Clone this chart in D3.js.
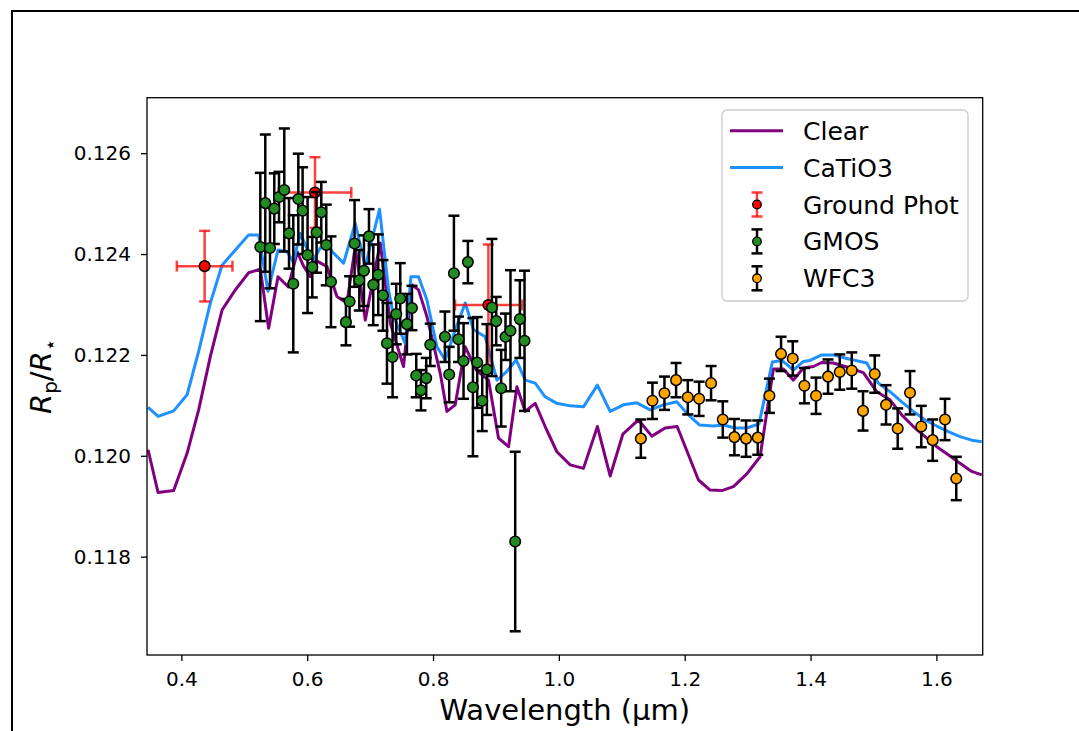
<!DOCTYPE html>
<html>
<head>
<meta charset="utf-8">
<script src="https://cdn.jsdelivr.net/npm/d3@7"></script>
<style>
  body { margin: 0; background: #fff; }
  svg { display: block; font-family: 'DejaVu Sans', sans-serif; }
</style>
</head>
<body>
<div id="chart"></div>
<script>
// Model spectra
const clearWave = [0.3471, 0.3630, 0.3878, 0.4091, 0.4275, 0.4461, 0.4647, 0.4858, 0.5069, 0.5255,
    0.5387, 0.5536, 0.5700, 0.5843, 0.5938, 0.6049, 0.6129, 0.6315, 0.6473, 0.6632,
    0.6764, 0.6923, 0.7161, 0.7320, 0.7531, 0.7665, 0.7770, 0.7903, 0.8114, 0.8221,
    0.8353, 0.8512, 0.8686, 0.8882, 0.9041, 0.9200, 0.9333, 0.9465, 0.9624, 0.9782,
    0.9968, 1.0180, 1.0391, 1.0613, 1.0815, 1.1017, 1.1265, 1.1478, 1.1689, 1.1880,
    1.2059, 1.2218, 1.2404, 1.2590, 1.2774, 1.2987, 1.3198, 1.3409, 1.3568, 1.3727,
    1.3886, 1.4045, 1.4178, 1.4362, 1.4575, 1.4839, 1.5052, 1.5263, 1.5449, 1.5634,
    1.5819, 1.6005, 1.6189, 1.6375, 1.6561, 1.6720]
const clearDepth = [0.12012, 0.11927, 0.11931, 0.12005, 0.12091, 0.12197, 0.12289, 0.12329, 0.12363, 0.12370,
    0.12253, 0.12355, 0.12335, 0.12404, 0.12377, 0.12355, 0.12388, 0.12375, 0.12316, 0.12303,
    0.12415, 0.12269, 0.12422, 0.12263, 0.12177, 0.12339, 0.12329, 0.12276, 0.12164, 0.12088,
    0.12101, 0.12216, 0.12170, 0.12150, 0.12035, 0.12018, 0.12137, 0.12088, 0.12104, 0.12058,
    0.12008, 0.11982, 0.11975, 0.12058, 0.11960, 0.12043, 0.12071, 0.12039, 0.12055, 0.12058,
    0.12002, 0.11952, 0.11932, 0.11931, 0.11939, 0.11964, 0.11998, 0.12172, 0.12172, 0.12150,
    0.12174, 0.12177, 0.12185, 0.12184, 0.12176, 0.12165, 0.12127, 0.12111, 0.12081, 0.12058,
    0.12038, 0.12018, 0.12002, 0.11985, 0.11969, 0.11962]

const catioWave = [0.3471, 0.3630, 0.3878, 0.4091, 0.4275, 0.4461, 0.4647, 0.4858, 0.5069, 0.5228,
    0.5377, 0.5536, 0.5679, 0.5779, 0.5890, 0.5986, 0.6097, 0.6208, 0.6315, 0.6394,
    0.6578, 0.6764, 0.6923, 0.7150, 0.7293, 0.7373, 0.7558, 0.7649, 0.7770, 0.7903,
    0.8062, 0.8194, 0.8353, 0.8512, 0.8643, 0.8829, 0.9015, 0.9163, 0.9322, 0.9465,
    0.9624, 0.9782, 0.9968, 1.0180, 1.0391, 1.0613, 1.0815, 1.1026, 1.1239, 1.1450,
    1.1661, 1.1874, 1.2059, 1.2237, 1.2456, 1.2615, 1.2801, 1.2987, 1.3180, 1.3393,
    1.3546, 1.3727, 1.3886, 1.3992, 1.4178, 1.4362, 1.4575, 1.4893, 1.5077, 1.5263,
    1.5449, 1.5634, 1.5819, 1.6005, 1.6189, 1.6375, 1.6561, 1.6720]
const catioDepth = [0.12096, 0.12078, 0.12089, 0.12121, 0.12207, 0.12303, 0.12378, 0.12408, 0.12438, 0.12438,
    0.12326, 0.12408, 0.12405, 0.12384, 0.12441, 0.12414, 0.12388, 0.12412, 0.12422, 0.12405,
    0.12382, 0.12461, 0.12375, 0.12489, 0.12329, 0.12276, 0.12223, 0.12355, 0.12355, 0.12309,
    0.12216, 0.12190, 0.12250, 0.12303, 0.12250, 0.12236, 0.12150, 0.12166, 0.12190, 0.12150,
    0.12144, 0.12117, 0.12104, 0.12099, 0.12097, 0.12140, 0.12088, 0.12101, 0.12105, 0.12091,
    0.12101, 0.12107, 0.12081, 0.12061, 0.12059, 0.12061, 0.12055, 0.12055, 0.12063, 0.12186,
    0.12189, 0.12170, 0.12187, 0.12189, 0.12200, 0.12200, 0.12193, 0.12184, 0.12144, 0.12127,
    0.12107, 0.12088, 0.12071, 0.12059, 0.12048, 0.12038, 0.12031, 0.12028]

// Observations
const groundWave = [0.437, 0.6124, 0.888]
const groundWaveErr = [0.0442, 0.0577, 0.053]
const groundDepth = [0.12376, 0.12522, 0.12299]
const groundErr = [0.0007, 0.0007, 0.0012]

const gmosWave = [0.5255, 0.5334, 0.5409, 0.5477, 0.5552, 0.5636, 0.5711, 0.5779, 0.5859, 0.5927,
    0.6006, 0.6081, 0.6149, 0.6224, 0.6303, 0.6378, 0.6616, 0.6674, 0.6753, 0.6828,
    0.6902, 0.6982, 0.7050, 0.7129, 0.7204, 0.7268, 0.7357, 0.7415, 0.7479, 0.7585,
    0.7665, 0.7733, 0.7808, 0.7892, 0.7956, 0.8189, 0.8257, 0.8332, 0.8405, 0.8485,
    0.8554, 0.8634, 0.8702, 0.8782, 0.8856, 0.8936, 0.9004, 0.9083, 0.9152, 0.9231,
    0.9306, 0.9380, 0.9454]
const gmosDepth = [0.12414, 0.12501, 0.12412, 0.12490, 0.12513, 0.12527, 0.12441, 0.12341, 0.12509, 0.12486,
    0.12398, 0.12374, 0.12443, 0.12483, 0.12418, 0.12345, 0.12265, 0.12306, 0.12421, 0.12348,
    0.12367, 0.12435, 0.12339, 0.12359, 0.12318, 0.12223, 0.12196, 0.12281, 0.12312, 0.12261,
    0.12293, 0.12159, 0.12130, 0.12154, 0.12220, 0.12236, 0.12161, 0.12362, 0.12231, 0.12188,
    0.12384, 0.12136, 0.12185, 0.12109, 0.12171, 0.12294, 0.12267, 0.12134, 0.12236, 0.12248,
    0.11830, 0.12271, 0.12228]
const gmosErr = [0.00147, 0.00136, 0.0008, 0.0007, 0.0005, 0.00122, 0.0007, 0.00136, 0.0009, 0.00086,
    0.00115, 0.0006, 0.0008, 0.0006, 0.0008, 0.0009, 0.00046, 0.0005, 0.00086, 0.0006,
    0.0007, 0.00054, 0.0008, 0.0008, 0.0007, 0.0008, 0.0008, 0.0006, 0.0007, 0.0006,
    0.00044, 0.00043, 0.0004, 0.0004, 0.00042, 0.0005, 0.00055, 0.00114, 0.00045, 0.00075,
    0.00042, 0.00137, 0.0009, 0.0006, 0.0009, 0.00136, 0.00048, 0.00076, 0.00046, 0.0012,
    0.00178, 0.00077, 0.00139]

const wfc3Wave = [1.1303, 1.1487, 1.1678, 1.1863, 1.2049, 1.2229, 1.2419, 1.2605, 1.2790, 1.2975,
    1.3161, 1.3346, 1.3531, 1.3717, 1.3902, 1.4087, 1.4278, 1.4464, 1.4655, 1.4834,
    1.5020, 1.5200, 1.5385, 1.5581, 1.5760, 1.5941, 1.6137, 1.6316]
const wfc3Depth = [0.12034, 0.12109, 0.12124, 0.12150, 0.12116, 0.12113, 0.12144, 0.12072, 0.12037, 0.12034,
    0.12036, 0.12119, 0.12202, 0.12193, 0.12139, 0.12119, 0.12157, 0.12166, 0.12169, 0.12089,
    0.12162, 0.12101, 0.12054, 0.12125, 0.12058, 0.12031, 0.12072, 0.11955]
const wfc3Err = [0.00038, 0.00036, 0.00033, 0.00034, 0.00034, 0.00034, 0.00034, 0.00036, 0.00036, 0.00036,
    0.00034, 0.00034, 0.00034, 0.00034, 0.00035, 0.00036, 0.00034, 0.00035, 0.00036, 0.00039,
    0.00037, 0.00039, 0.0004, 0.00043, 0.00041, 0.00041, 0.00041, 0.00043]

const xTicks = [0.4, 0.6, 0.8, 1.0, 1.2, 1.4, 1.6]
const yTicks = [0.118, 0.120, 0.122, 0.124, 0.126]
const xDomain = [0.3454, 1.6736]
const yDomain = [0.11605, 0.1271]
const legendLabels = ['Clear', 'CaTiO3', 'Ground Phot', 'GMOS', 'WFC3']

class SpectrumPlot {
    constructor(_config) {
        this.config = {
            parentElement: _config.parentElement,
            containerWidth: _config.containerWidth,
            containerHeight: _config.containerHeight,
            margin: {top: 97.7, right: 96.3, bottom: 76, left: 147},
            markerRadius: 5.3,
            capHalf: 5.5,
            barWidth: 2.5
        }
        this.initVis()
    }

    initVis() {
        let vis = this

        vis.width = vis.config.containerWidth - vis.config.margin.left - vis.config.margin.right
        vis.height = vis.config.containerHeight - vis.config.margin.top - vis.config.margin.bottom

        vis.svg = d3.select(vis.config.parentElement)
            .append('svg')
            .attr('width', vis.config.containerWidth)
            .attr('height', vis.config.containerHeight)

        // figure border (cropped at right and bottom)
        vis.svg.append('rect')
            .attr('x', 12)
            .attr('y', 11)
            .attr('width', 1200)
            .attr('height', 900)
            .attr('fill', 'none')
            .attr('stroke', 'black')
            .attr('stroke-width', 2)

        vis.chart = vis.svg.append('g')
            .attr('transform', `translate(${vis.config.margin.left}, ${vis.config.margin.top})`)

        vis.xScale = d3.scaleLinear().domain(xDomain).range([0, vis.width])
        vis.yScale = d3.scaleLinear().domain(yDomain).range([vis.height, 0])

        vis.updateVis()
    }

    updateVis() {
        let vis = this

        vis.clear = clearWave.map((w, i) => ({w: w, v: clearDepth[i]}))
        vis.catio = catioWave.map((w, i) => ({w: w, v: catioDepth[i]}))
        vis.ground = groundWave.map((w, i) => ({w: w, we: groundWaveErr[i], v: groundDepth[i], e: groundErr[i]}))
        vis.gmos = gmosWave.map((w, i) => ({w: w, v: gmosDepth[i], e: gmosErr[i]}))
        vis.wfc3 = wfc3Wave.map((w, i) => ({w: w, v: wfc3Depth[i], e: wfc3Err[i]}))

        vis.renderVis()
        vis.renderAxes()
        vis.renderLegend()
    }

    renderVis() {
        let vis = this
        const x = vis.xScale, y = vis.yScale

        const line = d3.line().x(d => x(d.w)).y(d => y(d.v))

        vis.chart.append('path')
            .datum(vis.clear)
            .attr('d', line)
            .attr('fill', 'none')
            .attr('stroke', 'purple')
            .attr('stroke-width', 3)
            .attr('stroke-linejoin', 'round')

        vis.chart.append('path')
            .datum(vis.catio)
            .attr('d', line)
            .attr('fill', 'none')
            .attr('stroke', '#1e90ff')
            .attr('stroke-width', 3)
            .attr('stroke-linejoin', 'round')

        vis.drawErrors(vis.ground, 'rgba(255,0,0,0.75)', 'red', true)
        vis.drawErrors(vis.gmos, 'black', 'forestgreen', false)
        vis.drawErrors(vis.wfc3, 'black', 'orange', false)
    }

    drawErrors(data, barColor, fill, withX) {
        let vis = this
        const x = vis.xScale, y = vis.yScale
        const c = vis.config.capHalf

        let g = vis.chart.append('g')
            .attr('stroke', barColor)
            .attr('stroke-width', vis.config.barWidth)

        g.selectAll('.ybar')
            .data(data)
            .join('line')
            .attr('class', 'ybar')
            .attr('x1', d => x(d.w))
            .attr('x2', d => x(d.w))
            .attr('y1', d => y(d.v - d.e))
            .attr('y2', d => y(d.v + d.e))

        g.selectAll('.ycap')
            .data(data.flatMap(d => [{w: d.w, v: d.v - d.e}, {w: d.w, v: d.v + d.e}]))
            .join('line')
            .attr('class', 'ycap')
            .attr('x1', d => x(d.w) - c)
            .attr('x2', d => x(d.w) + c)
            .attr('y1', d => y(d.v))
            .attr('y2', d => y(d.v))

        if (withX) {
            g.selectAll('.xbar')
                .data(data)
                .join('line')
                .attr('class', 'xbar')
                .attr('x1', d => x(d.w - d.we))
                .attr('x2', d => x(d.w + d.we))
                .attr('y1', d => y(d.v))
                .attr('y2', d => y(d.v))

            g.selectAll('.xcap')
                .data(data.flatMap(d => [{w: d.w - d.we, v: d.v}, {w: d.w + d.we, v: d.v}]))
                .join('line')
                .attr('class', 'xcap')
                .attr('x1', d => x(d.w))
                .attr('x2', d => x(d.w))
                .attr('y1', d => y(d.v) - c)
                .attr('y2', d => y(d.v) + c)
        }

        vis.chart.append('g')
            .selectAll('circle')
            .data(data)
            .join('circle')
            .attr('cx', d => x(d.w))
            .attr('cy', d => y(d.v))
            .attr('r', vis.config.markerRadius)
            .attr('fill', fill)
            .attr('stroke', 'black')
            .attr('stroke-width', 1.5)
    }

    renderAxes() {
        let vis = this

        let xAxis = d3.axisBottom(vis.xScale)
            .tickValues(xTicks)
            .tickSize(6)
            .tickPadding(10.5)
            .tickFormat(d3.format('.1f'))

        let yAxis = d3.axisLeft(vis.yScale)
            .tickValues(yTicks)
            .tickSize(6)
            .tickPadding(10)
            .tickFormat(d3.format('.3f'))

        let xg = vis.chart.append('g')
            .attr('transform', `translate(0, ${vis.height})`)
            .call(xAxis)
        let yg = vis.chart.append('g').call(yAxis)

        for (const g of [xg, yg]) {
            g.select('.domain').remove()
            g.selectAll('.tick line').attr('stroke', 'black').attr('stroke-width', 1.3)
            g.selectAll('.tick text')
                .attr('fill', 'black')
                .style('font-size', '20px')
                .style('font-family', 'DejaVu Sans')
        }

        // axes frame
        vis.chart.append('rect')
            .attr('width', vis.width)
            .attr('height', vis.height)
            .attr('fill', 'none')
            .attr('stroke', 'black')
            .attr('stroke-width', 1.3)

        vis.svg.append('text')
            .attr('x', vis.config.margin.left + vis.width / 2)
            .attr('y', 720)
            .attr('text-anchor', 'middle')
            .style('font-size', '29px')
            .text('Wavelength (μm)')

        let yl = vis.svg.append('text')
            .attr('transform', `translate(51, ${vis.config.margin.top + vis.height / 2}) rotate(-90)`)
            .attr('text-anchor', 'middle')
            .style('font-size', '29px')
        yl.append('tspan').attr('font-style', 'italic').text('R')
        yl.append('tspan').attr('dy', 6).style('font-size', '20px').text('p')
        yl.append('tspan').attr('dy', -6).text('/')
        yl.append('tspan').attr('font-style', 'italic').text('R')
        yl.append('tspan').attr('dy', 6).style('font-size', '20px').text('⋆')
    }

    renderLegend() {
        let vis = this
        const c = vis.config.capHalf

        let lg = vis.svg.append('g')
            .attr('transform', 'translate(722, 110)')

        lg.append('rect')
            .attr('width', 246)
            .attr('height', 191)
            .attr('rx', 5)
            .attr('fill', 'white')
            .attr('fill-opacity', 0.8)
            .attr('stroke', '#cccccc')
            .attr('stroke-width', 1.3)

        const rowY = i => 20.7 + i * 36.9
        const styles = [
            {type: 'line', color: 'purple'},
            {type: 'line', color: '#1e90ff'},
            {type: 'err', bar: 'rgba(255,0,0,0.75)', fill: 'red'},
            {type: 'err', bar: 'black', fill: 'forestgreen'},
            {type: 'err', bar: 'black', fill: 'orange'}
        ]

        let rows = lg.selectAll('.legend-row')
            .data(legendLabels)
            .join('g')
            .attr('class', 'legend-row')
            .attr('transform', (d, i) => `translate(0, ${rowY(i)})`)

        rows.each(function (d, i) {
            let row = d3.select(this)
            const s = styles[i]
            if (s.type === 'line') {
                row.append('line')
                    .attr('x1', 8).attr('x2', 61)
                    .attr('stroke', s.color)
                    .attr('stroke-width', 3)
            } else {
                row.append('line')
                    .attr('x1', 35).attr('x2', 35).attr('y1', -12).attr('y2', 12)
                    .attr('stroke', s.bar).attr('stroke-width', 2.5)
                for (const yy of [-12, 12]) {
                    row.append('line')
                        .attr('x1', 35 - c).attr('x2', 35 + c).attr('y1', yy).attr('y2', yy)
                        .attr('stroke', s.bar).attr('stroke-width', 2.5)
                }
                row.append('circle')
                    .attr('cx', 35).attr('r', 4.3)
                    .attr('fill', s.fill)
                    .attr('stroke', 'black').attr('stroke-width', 1.3)
            }
            row.append('text')
                .attr('x', 81)
                .attr('dy', '0.36em')
                .style('font-size', '25px')
                .text(d)
        })
    }
}

new SpectrumPlot({parentElement: '#chart', containerWidth: 1079, containerHeight: 731})
</script>
</body>
</html>
